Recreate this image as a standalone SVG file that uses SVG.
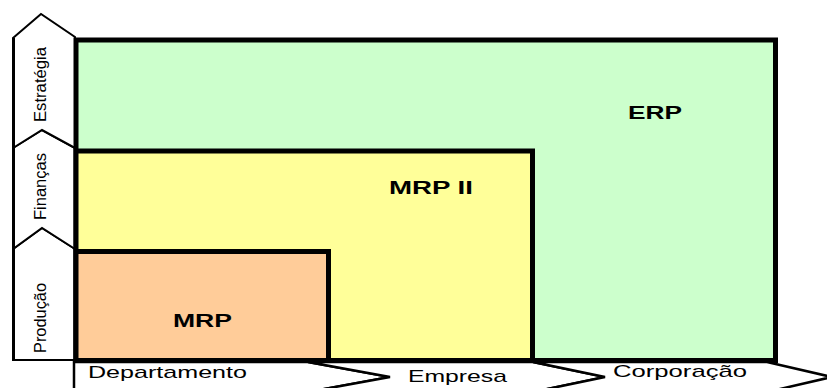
<svg xmlns="http://www.w3.org/2000/svg" width="827" height="388" viewBox="0 0 827 388">
  <style>
    .chev { fill: #ffffff; stroke: #000000; stroke-width: 2; stroke-linejoin: miter; }
    .hchev { stroke-width: 2.5; }
    .edge { fill: none; stroke: #000000; stroke-width: 3; }
    .box { stroke: #000000; stroke-width: 5; }
    .lbl { font-family: "Liberation Sans", Arial, sans-serif; fill: #000000; }
    .axis { font-size: 17px; }
    .side { font-size: 16.5px; }
    .sys { font-size: 18px; font-weight: bold; }
  </style>

  <rect x="0" y="0" width="827" height="388" fill="#ffffff"/>

  <!-- scope axis along the bottom -->
  <g id="departamento">
    <polygon class="chev hchev" points="74,362 308,362 390,377 308,392 74,392"/>
    <text class="lbl axis" x="88" y="378" textLength="159" lengthAdjust="spacingAndGlyphs">Departamento</text>
  </g>
  <g id="empresa">
    <polygon class="chev hchev" points="308,362 533,362 605,377 533,392 308,392 390,377"/>
    <text class="lbl axis" x="408" y="382" textLength="99" lengthAdjust="spacingAndGlyphs">Empresa</text>
  </g>
  <g id="corporacao">
    <polygon class="chev hchev" points="533,362 767,362 832,377 767,392 533,392 605,377"/>
    <text class="lbl axis" x="613" y="377" textLength="134" lengthAdjust="spacingAndGlyphs">Corporação</text>
  </g>

  <!-- functional axis along the left side -->
  <g id="producao">
    <polygon class="chev" points="13,249 42,228 75,249 75,360 13,360"/>
    <line class="edge" x1="13.5" y1="249" x2="13.5" y2="361"/>
    <text class="lbl side" transform="translate(46,353) rotate(-90)" textLength="70" lengthAdjust="spacingAndGlyphs">Produção</text>
  </g>
  <g id="financas">
    <polygon class="chev" points="13,148 42,130 75,148 75,249 42,228 13,249"/>
    <line class="edge" x1="13.5" y1="148" x2="13.5" y2="249"/>
    <text class="lbl side" transform="translate(46,220) rotate(-90)" textLength="67" lengthAdjust="spacingAndGlyphs">Finanças</text>
  </g>
  <g id="estrategia">
    <polygon class="chev" points="13,38 41,14 75,37 75,148 42,130 13,148"/>
    <line class="edge" x1="13.5" y1="38" x2="13.5" y2="148"/>
    <text class="lbl side" transform="translate(46,122) rotate(-90)" textLength="75" lengthAdjust="spacingAndGlyphs">Estratégia</text>
  </g>

  <!-- nested system scopes -->
  <g id="erp">
    <rect class="box" x="76" y="40" width="699.5" height="320.5" fill="#ccffcc"/>
    <text class="lbl sys" x="628" y="119" textLength="54" lengthAdjust="spacingAndGlyphs">ERP</text>
  </g>
  <g id="mrp2">
    <rect class="box" x="76" y="151" width="456.5" height="209.5" fill="#ffff99"/>
    <text class="lbl sys" x="389" y="194" textLength="84" lengthAdjust="spacingAndGlyphs">MRP II</text>
  </g>
  <g id="mrp">
    <rect class="box" x="76" y="251.5" width="252.5" height="109" fill="#ffcc99"/>
    <text class="lbl sys" x="173" y="327" textLength="59" lengthAdjust="spacingAndGlyphs">MRP</text>
  </g>
</svg>
